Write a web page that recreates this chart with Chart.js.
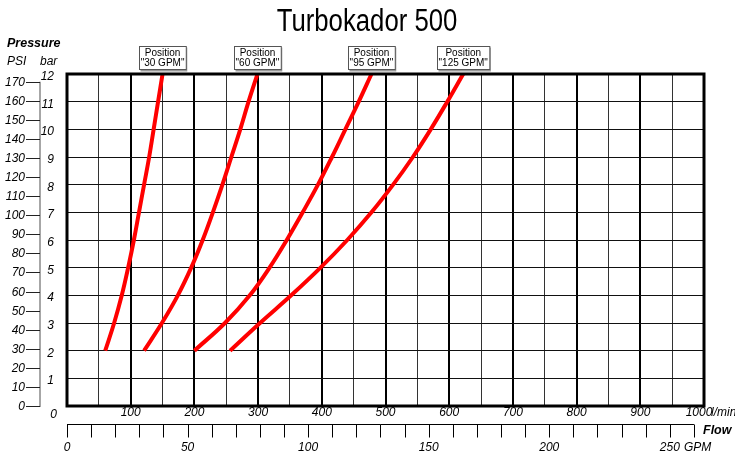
<!DOCTYPE html>
<html>
<head>
<meta charset="utf-8">
<script src="https://cdn.jsdelivr.net/npm/chart.js@4/dist/chart.umd.min.js"></script>
<style>
html,body{margin:0;padding:0;background:#fff;}
#wrap{width:735px;height:455px;}
</style>
</head>
<body>
<div id="wrap"><canvas id="c" width="735" height="455"></canvas></div>
<script>
// ---- data ----
const chartTitle = 'Turbokador 500';
const pressureBar = [2, 3, 4, 5, 6, 7, 8, 9, 10, 11, 12];
const flow30 = [60, 74, 86, 96, 105, 113, 121, 129, 136, 143, 150];
const flow60 = [121, 149, 174, 195, 213, 229, 244, 258, 272, 285, 299];
const flow95 = [200, 248, 287, 318, 345, 370, 394, 416, 437, 458, 478];
const flow125 = [256, 303, 352, 398, 440, 478, 512, 543, 571, 597, 622];
const seriesNames = ['"30 GPM"', '"60 GPM"', '"95 GPM"', '"125 GPM"'];
const flowTicks = [0, 100, 200, 300, 400, 500, 600, 700, 800, 900, 1000];
const barTicks = [1, 2, 3, 4, 5, 6, 7, 8, 9, 10, 11, 12];
const psiTicks = [0, 10, 20, 30, 40, 50, 60, 70, 80, 90, 100, 110, 120, 130, 140, 150, 160, 170];
const gpmTicks = [0, 10, 20, 30, 40, 50, 60, 70, 80, 90, 100, 110, 120, 130, 140, 150, 160, 170, 180, 190, 200, 210, 220, 230, 240, 250, 260];
const gpmLabels = [0, 50, 100, 150, 200, 250];
const PSI_PER_BAR = 14.5038;
const LPM_PER_GPM = 3.78541;

const allFlows = [flow30, flow60, flow95, flow125];
const datasets = allFlows.map((f, i) => ({
  label: seriesNames[i],
  data: f.map((v, k) => ({x: v, y: pressureBar[k]})),
  borderColor: '#ff0000',
  borderWidth: 4,
  pointRadius: 0,
  tension: 0.4,
  fill: false,
  clip: false
}));

const italic = 'italic 12px "Liberation Sans", Arial, sans-serif';

const decor = {
  id: 'decor',
  afterDraw(chart) {
    const ctx = chart.ctx;
    const xs = chart.scales.x, ys = chart.scales.y;
    const a = chart.chartArea;
    ctx.save();
    // plot border
    ctx.strokeStyle = '#000';
    ctx.lineWidth = 3;
    ctx.strokeRect(a.left, a.top, a.right - a.left, a.bottom - a.top);

    // title (condensed)
    ctx.fillStyle = '#000';
    ctx.font = '31px "Liberation Sans", Arial, sans-serif';
    ctx.textAlign = 'center';
    ctx.textBaseline = 'alphabetic';
    ctx.save();
    ctx.translate(367, 31);
    ctx.scale(0.83, 1);
    ctx.fillText(chartTitle, 0, 0);
    ctx.restore();

    // axis headings
    ctx.textAlign = 'left';
    ctx.font = 'bold italic 12.5px "Liberation Sans", Arial, sans-serif';
    ctx.fillText('Pressure', 7, 47);
    ctx.font = italic;
    ctx.fillText('PSI', 7, 65);
    ctx.fillText('bar', 40, 65);

    // bar labels
    ctx.textAlign = 'right';
    ctx.textBaseline = 'middle';
    barTicks.forEach(b => ctx.fillText(String(b), 54, ys.getPixelForValue(b) + 2.5));
    ctx.fillText('0', 57, ys.getPixelForValue(0) + 9);

    // PSI axis
    const psiTop = ys.getPixelForValue(psiTicks[psiTicks.length - 1] / PSI_PER_BAR);
    const psiBot = ys.getPixelForValue(0);
    ctx.strokeStyle = '#888';
    ctx.lineWidth = 1.5;
    ctx.beginPath(); ctx.moveTo(40, psiTop); ctx.lineTo(40, psiBot + 1); ctx.stroke();
    ctx.strokeStyle = '#222';
    ctx.lineWidth = 1;
    psiTicks.forEach(p => {
      const y = Math.round(ys.getPixelForValue(p / PSI_PER_BAR)) + 0.5;
      ctx.beginPath(); ctx.moveTo(26, y); ctx.lineTo(40, y); ctx.stroke();
      ctx.fillText(String(p), 25, y);
    });

    // flow l/min labels
    ctx.textAlign = 'center';
    flowTicks.forEach(f => {
      if (f === 0) return;
      let x = xs.getPixelForValue(f);
      if (f === 1000) x -= 5;
      ctx.fillText(String(f), x, a.bottom + 7);
    });
    ctx.textAlign = 'left';
    ctx.fillText('l/min', 711, a.bottom + 7);

    // GPM axis
    const gy = 424.5;
    const gx0 = xs.getPixelForValue(0);
    const gx1 = xs.getPixelForValue(gpmTicks[gpmTicks.length - 1] * LPM_PER_GPM);
    ctx.strokeStyle = '#000';
    ctx.lineWidth = 1;
    ctx.beginPath(); ctx.moveTo(gx0, gy); ctx.lineTo(gx1, gy); ctx.stroke();
    gpmTicks.forEach(g => {
      const x = Math.round(xs.getPixelForValue(g * LPM_PER_GPM)) + 0.5;
      ctx.beginPath(); ctx.moveTo(x, gy); ctx.lineTo(x, gy + 13); ctx.stroke();
    });
    ctx.textAlign = 'center';
    gpmLabels.forEach(g => ctx.fillText(String(g), xs.getPixelForValue(g * LPM_PER_GPM), 448));
    ctx.textAlign = 'left';
    ctx.fillText('GPM', 684, 448);
    ctx.font = 'bold italic 12.5px "Liberation Sans", Arial, sans-serif';
    ctx.fillText('Flow', 703, 431);

    // position boxes
    ctx.font = '10px "Liberation Sans", Arial, sans-serif';
    ctx.textBaseline = 'middle';
    ctx.textAlign = 'center';
    allFlows.forEach((f, i) => {
      const cx = xs.getPixelForValue(f[f.length - 1]);
      const w = Math.max(ctx.measureText('Position').width, ctx.measureText(seriesNames[i]).width) + 3;
      const x0 = Math.round(cx - w / 2) + 0.5, y0 = 46.5, h = 23;
      ctx.fillStyle = '#999';
      ctx.fillRect(x0 + 1, y0 + 1, w, h + 1);
      ctx.fillStyle = '#fff';
      ctx.fillRect(x0, y0, w, h);
      ctx.strokeStyle = '#555';
      ctx.lineWidth = 1;
      ctx.strokeRect(x0, y0, w, h);
      ctx.fillStyle = '#000';
      ctx.fillText('Position', cx, y0 + 6.5);
      ctx.fillText(seriesNames[i], cx, y0 + 17);
    });
    ctx.restore();
  }
};

new Chart(document.getElementById('c'), {
  type: 'line',
  data: { datasets },
  options: {
    responsive: false,
    animation: false,
    events: [],
    layout: { padding: { left: 67, right: 31, top: 74, bottom: 49 } },
    plugins: { legend: { display: false }, tooltip: { enabled: false }, title: { display: false } },
    scales: {
      x: {
        type: 'linear', min: 0, max: 1000,
        ticks: { stepSize: 50, display: false },
        grid: {
          drawTicks: false,
          color: c => (c.tick && c.tick.value % 100 === 0) ? '#000' : '#333',
          lineWidth: c => (c.tick && c.tick.value % 100 === 0) ? 2 : 1
        },
        border: { display: false }
      },
      y: {
        type: 'linear', min: 0, max: 12,
        ticks: { stepSize: 1, display: false },
        grid: { drawTicks: false, color: '#111', lineWidth: 1 },
        border: { display: false }
      }
    }
  },
  plugins: [decor]
});
</script>
</body>
</html>
